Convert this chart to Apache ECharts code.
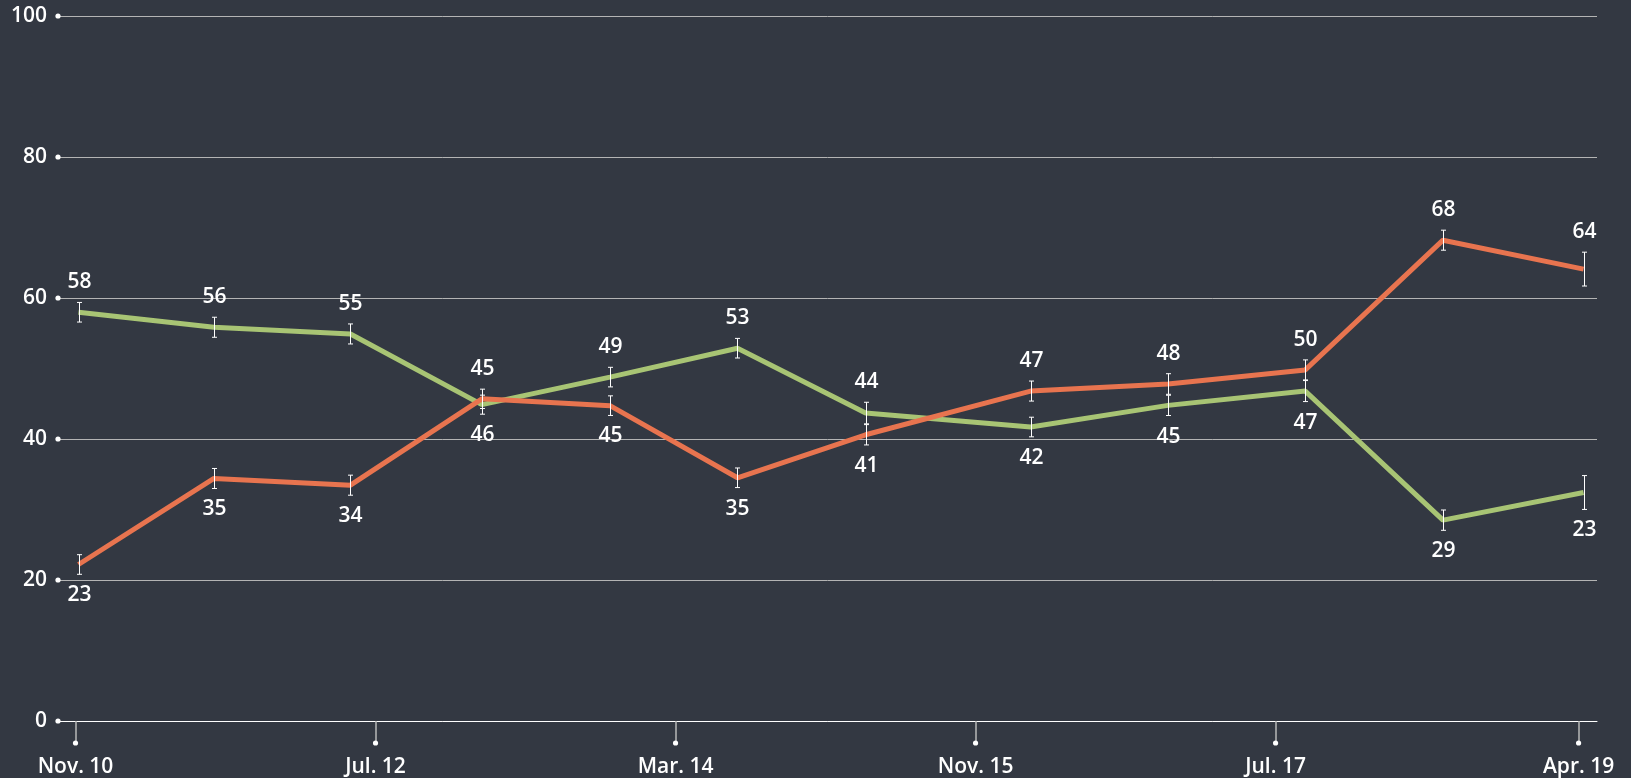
<!DOCTYPE html>
<html>
<head>
<meta charset="utf-8">
<script src="https://cdn.jsdelivr.net/npm/echarts@6/dist/echarts.min.js"></script>
<style>
html,body{margin:0;padding:0;background:#333842;}
#chart{width:1631px;height:778px;}
</style>
</head>
<body>
<div id="chart"></div>
<script>
// Survey dates, in months since Nov. 2010
const surveyMonths = [0.2, 9.23, 18.33, 27.09, 35.63, 44.13, 52.67, 63.67, 72.83, 81.98, 91.16, 100.53];

// Green series
const greenValues = [57.98, 55.85, 54.9, 44.87, 48.78, 52.88, 43.68, 41.7, 44.77, 46.8, 28.49, 32.41];
const greenErrors = [1.39, 1.42, 1.42, 1.35, 1.39, 1.39, 1.53, 1.39, 1.44, 1.49, 1.44, 2.4];
const greenLabels = ['58', '56', '55', '46', '49', '53', '44', '42', '45', '47', '29', '23'];

// Orange series
const orangeValues = [22.2, 34.4, 33.45, 45.7, 44.73, 34.5, 40.6, 46.8, 47.8, 49.8, 68.2, 64.1];
const orangeErrors = [1.39, 1.42, 1.42, 1.37, 1.39, 1.39, 1.44, 1.42, 1.46, 1.42, 1.42, 2.4];
const orangeLabels = ['23', '35', '34', '45', '45', '35', '41', '47', '48', '50', '68', '64'];

// Axis ticks
const xTickValues = [0, 20, 40, 60, 80, 100.2];
const xTickLabels = ['Nov. 10', 'Jul. 12', 'Mar. 14', 'Nov. 15', 'Jul. 17', 'Apr. 19'];
const yTickValues = [0, 20, 40, 60, 80, 100];

// label side per point (style)
const greenSide = ['top','top','top','bottom','top','top','top','bottom','bottom','bottom','bottom','bottom'];
const orangeSide = ['bottom','bottom','bottom','top','bottom','bottom','bottom','top','top','top','top','top'];

const X_MIN = -1.167, X_MAX = 101.427;
const FONT = '"Open Sans", "Noto Sans", sans-serif';
const FW = 600;
const GREEN = '#a8c474';
const ORANGE = '#e8744f';

function errSeries(name, values, errs, labels, sides) {
  return {
    type: 'custom',
    name: name,
    z: 10,
    silent: true,
    data: values.map((v, i) => [surveyMonths[i], v, errs[i], i]),
    renderItem: function (params, api) {
      const x = api.value(0), y = api.value(1), e = api.value(2), i = api.value(3);
      const top = api.coord([x, y + e]);
      const bot = api.coord([x, y - e]);
      const cx = Math.round(top[0]) + 0.5;
      const cw = 2.5;
      const st = { stroke: '#ffffff', lineWidth: 1 };
      const ty = sides[i] === 'top' ? top[1] - 20 : bot[1] + 21;
      return {
        type: 'group',
        children: [
          { type: 'line', shape: { x1: cx, y1: top[1], x2: cx, y2: bot[1] }, style: st },
          { type: 'line', shape: { x1: cx - cw, y1: top[1], x2: cx + cw, y2: top[1] }, style: st },
          { type: 'line', shape: { x1: cx - cw, y1: bot[1], x2: cx + cw, y2: bot[1] }, style: st },
          { type: 'text', x: cx, y: ty, style: { text: labels[i], fill: '#ffffff', fontSize: 21, fontWeight: FW, fontFamily: FONT, align: 'center', verticalAlign: 'middle' } }
        ]
      };
    }
  };
}

const chart = echarts.init(document.getElementById('chart'), null, { renderer: 'canvas' });
const option = {
  backgroundColor: '#333842',
  animation: false,
  grid: { left: 58, right: 34, top: 16, bottom: 57, containLabel: false },
  xAxis: {
    type: 'value',
    min: X_MIN,
    max: X_MAX,
    splitLine: { show: false },
    axisLine: { show: true, lineStyle: { color: '#ffffff', width: 1 } },
    axisTick: { show: true, customValues: xTickValues, length: 22, lineStyle: { color: '#b8b8b8', width: 1.5 } },
    axisLabel: {
      customValues: xTickValues,
      margin: 36,
      color: '#ffffff',
      fontSize: 21,
      fontWeight: FW,
      fontFamily: FONT,
      formatter: function (v) {
        const idx = xTickValues.findIndex(t => Math.abs(t - v) < 1e-6);
        return idx >= 0 ? xTickLabels[idx] : '';
      }
    }
  },
  yAxis: {
    type: 'value',
    min: 0,
    max: 100,
    interval: 20,
    axisLine: { show: false },
    axisTick: { show: false },
    splitLine: { show: true, lineStyle: { color: '#b4b4b4', width: 1 } },
    axisLabel: { color: '#ffffff', fontSize: 21, fontWeight: FW, fontFamily: FONT, margin: 11 }
  },
  series: [
    {
      type: 'line', name: 'green', z: 3,
      data: greenValues.map((v, i) => [surveyMonths[i], v]),
      symbol: 'none', lineStyle: { color: GREEN, width: 5 }, itemStyle: { color: GREEN }
    },
    {
      type: 'line', name: 'orange', z: 4,
      data: orangeValues.map((v, i) => [surveyMonths[i], v]),
      symbol: 'none', lineStyle: { color: ORANGE, width: 5 }, itemStyle: { color: ORANGE }
    },
    errSeries('greenErr', greenValues, greenErrors, greenLabels, greenSide),
    errSeries('orangeErr', orangeValues, orangeErrors, orangeLabels, orangeSide),
    {
      type: 'custom', name: 'yDots', z: 11, silent: true, clip: false,
      data: yTickValues.map(v => [v]),
      renderItem: function (params, api) {
        const p = api.coord([X_MIN, api.value(0)]);
        return { type: 'circle', shape: { cx: p[0], cy: p[1], r: 2.6 }, style: { fill: '#ffffff' } };
      }
    },
    {
      type: 'custom', name: 'xDots', z: 11, silent: true, clip: false,
      data: xTickValues.map(v => [v]),
      renderItem: function (params, api) {
        const p = api.coord([api.value(0), 0]);
        return { type: 'circle', shape: { cx: p[0], cy: p[1] + 22, r: 2.6 }, style: { fill: '#ffffff' } };
      }
    }
  ]
};
chart.setOption(option);
</script>
</body>
</html>
